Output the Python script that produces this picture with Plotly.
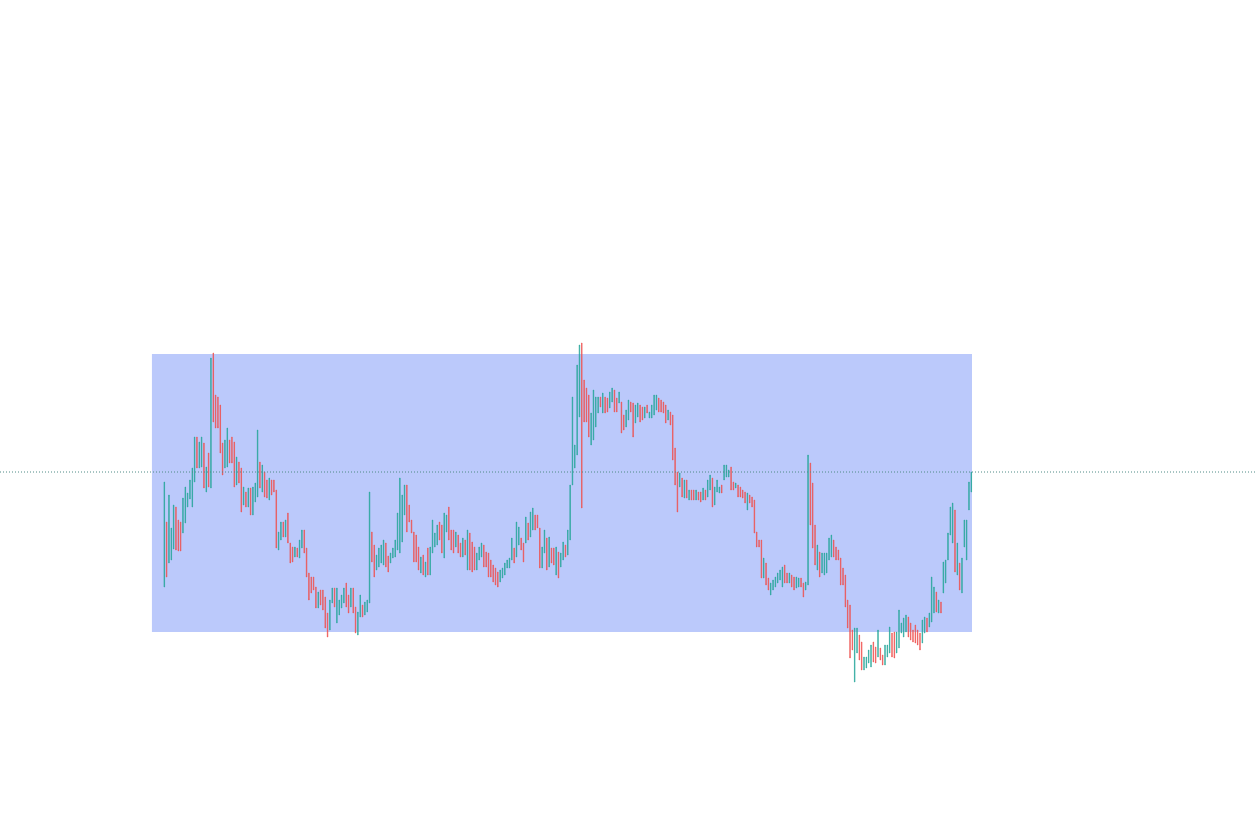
import plotly.graph_objects as go

open_ = [
    413,478,437,440,451,493,480,478,467,477,
    493,501,493,518,563,532,533,557,508,547,
    512,647,605,603,595,557,532,533,560,563,
    558,515,538,532,495,508,493,512,485,498,
    503,538,508,528,520,500,520,520,510,450,
    460,478,463,487,457,453,443,452,442,452,
    470,452,427,423,423,413,392,410,410,403,
    387,370,397,412,377,385,392,397,417,405,
    393,412,393,365,383,395,385,388,397,468,
    455,430,433,437,435,457,444,437,442,443,
    450,447,458,485,515,495,480,468,465,453,
    427,445,423,452,425,447,453,455,478,475,
    442,468,493,470,470,453,465,457,443,460,
    430,467,458,453,430,440,443,455,448,447,
    440,435,432,428,418,422,425,432,432,440,
    452,443,455,462,457,457,477,463,470,485,
    485,472,432,447,462,433,452,452,425,448,
    433,440,455,445,460,515,532,545,583,657,
    620,612,605,555,560,573,587,603,587,603,
    602,592,598,610,602,597,598,585,573,580,
    598,597,577,583,595,593,582,595,582,582,
    585,590,602,600,598,595,580,588,585,552,
    528,513,522,502,520,500,510,510,500,508,
    508,500,510,503,510,522,495,508,507,515,
    520,523,523,533,518,512,515,513,510,508,
    490,505,503,500,468,460,460,422,437,422,
    405,410,413,417,420,413,435,427,417,425,
    423,412,413,422,417,410,415,537,517,475,
    430,448,427,425,427,440,443,460,453,450,
    442,432,425,400,395,370,318,347,365,358,
    330,332,337,333,358,353,343,352,345,335,
    343,347,367,368,347,352,367,363,368,383,
    377,370,375,370,367,357,367,382,373,378,
    387,408,387,398,407,417,440,465,457,490,
    425,437,407,453,440,490,508,
]

close = [
    518,423,505,472,495,450,449,449,502,513,
    507,520,532,563,532,558,563,512,533,513,
    642,578,572,572,547,525,560,572,537,537,
    513,543,517,488,513,493,512,485,513,517,
    570,512,535,503,502,522,505,508,452,468,
    478,463,480,457,437,438,453,443,460,470,
    447,423,400,407,410,392,408,395,390,372,
    363,400,412,393,412,400,405,412,393,387,
    412,387,367,388,405,383,398,400,508,438,
    423,445,452,455,460,433,428,447,452,460,
    487,522,505,515,468,478,467,438,438,430,
    443,425,438,425,453,480,467,475,460,447,
    487,485,460,450,447,468,447,443,462,445,
    470,430,428,430,447,453,457,433,433,423,
    423,418,415,413,430,432,437,440,442,462,
    437,478,473,450,438,483,460,488,492,470,
    472,432,453,470,430,463,437,435,453,422,
    447,458,443,470,515,603,555,635,655,492,
    578,578,563,587,610,603,603,593,607,587,
    588,608,612,588,588,608,567,570,590,600,
    588,563,595,597,578,580,593,587,588,595,
    605,605,588,588,587,577,590,575,540,515,
    488,527,503,520,502,510,500,500,510,500,
    498,512,500,520,525,493,513,520,513,507,
    535,535,530,510,510,517,503,503,502,497,
    507,497,493,467,453,453,422,442,415,410,
    417,420,423,427,430,433,417,417,427,413,
    410,423,422,413,403,418,545,475,452,435,
    455,423,447,447,447,462,465,443,440,440,
    415,415,393,372,342,350,372,372,340,330,
    343,343,350,355,338,337,370,340,335,355,
    355,373,343,342,368,390,377,382,385,363,
    360,358,357,355,350,380,383,368,387,423,
    413,388,400,387,438,440,467,493,497,428,
    457,410,442,480,480,518,528,
]

high = [
    518,478,505,472,495,493,480,478,502,513,
    507,520,532,563,563,558,563,557,533,547,
    642,647,605,603,595,557,560,572,560,563,
    558,543,538,532,513,508,512,512,513,517,
    570,538,535,528,520,522,520,520,510,468,
    478,478,480,487,457,453,453,452,460,470,
    470,452,427,423,423,413,408,410,410,403,
    387,400,412,412,412,400,405,412,417,405,
    412,412,393,388,405,395,398,400,508,468,
    455,445,452,455,460,457,444,447,452,460,
    487,522,505,515,515,495,480,468,465,453,
    443,445,438,452,453,480,467,475,478,475,
    487,485,493,470,470,468,465,457,462,460,
    470,467,458,453,447,453,457,455,448,447,
    440,435,432,428,430,432,437,440,442,462,
    452,478,473,462,457,483,477,488,492,485,
    485,472,453,470,462,463,452,452,453,448,
    447,458,455,470,515,603,555,635,655,657,
    620,612,605,587,610,603,603,603,607,603,
    602,608,612,610,602,608,598,585,590,600,
    598,597,595,597,595,593,593,595,588,595,
    605,605,602,600,598,595,590,588,585,552,
    528,527,522,520,520,510,510,510,510,508,
    508,512,510,520,525,522,513,520,513,515,
    535,535,530,533,518,517,515,513,510,508,
    507,505,503,500,468,460,460,442,437,422,
    417,420,423,427,430,433,435,427,427,425,
    423,423,422,422,417,418,545,537,517,475,
    455,448,447,447,447,462,465,460,453,450,
    442,432,425,400,395,370,372,372,365,358,
    343,343,350,355,358,353,370,352,345,355,
    355,373,367,368,368,390,377,382,385,383,
    377,370,375,370,367,380,383,382,387,423,
    413,408,400,398,438,440,467,493,497,490,
    457,437,442,480,480,518,528,
]

low = [
    413,423,437,440,451,450,449,449,467,477,
    493,501,493,518,532,532,533,512,508,513,
    512,578,572,572,547,525,532,533,537,537,
    513,515,517,488,495,493,493,485,485,498,
    503,512,508,503,502,500,505,508,452,450,
    460,463,463,457,437,438,443,443,442,452,
    447,423,400,407,410,392,392,395,390,372,
    363,370,397,393,377,385,392,397,393,387,
    393,387,367,365,383,383,385,388,397,438,
    423,430,433,437,435,433,428,437,442,443,
    450,447,458,485,468,478,467,438,438,430,
    427,425,423,425,425,447,453,455,460,447,
    442,468,460,450,447,453,447,443,443,445,
    430,430,428,430,430,440,443,433,433,423,
    423,418,415,413,418,422,425,432,432,440,
    437,443,455,450,438,457,460,463,470,470,
    472,432,432,447,430,433,437,435,425,422,
    433,440,443,445,460,515,532,545,583,492,
    578,578,563,555,560,573,587,593,587,587,
    588,592,598,588,588,597,567,570,573,580,
    588,563,577,583,578,580,582,587,582,582,
    585,590,588,588,587,577,580,575,540,515,
    488,513,503,502,502,500,500,500,500,500,
    498,500,500,503,510,493,495,508,507,507,
    520,523,523,510,510,512,503,503,502,497,
    490,497,493,467,453,453,422,422,415,410,
    405,410,413,417,420,413,417,417,417,413,
    410,412,413,413,403,410,415,475,452,435,
    430,423,427,425,427,440,443,443,440,440,
    415,415,393,372,342,350,318,347,340,330,
    330,332,337,333,338,337,343,340,335,335,
    343,347,343,342,347,352,367,363,368,363,
    360,358,357,355,350,357,367,368,373,378,
    387,388,387,387,407,417,440,465,457,428,
    425,410,407,453,440,490,508,
]

bars = list(range(len(close)))

box_top = 646
box_bottom = 368

UP = "#26a69a"
DOWN = "#ef5350"

fig = go.Figure(
    go.Candlestick(
        x=bars, open=open_, high=high, low=low, close=close,
        increasing=dict(line=dict(color=UP, width=0.6), fillcolor=UP),
        decreasing=dict(line=dict(color=DOWN, width=0.6), fillcolor=DOWN),
        whiskerwidth=0,
        hoverinfo="x+y",
        showlegend=False,
    )
)

fig.add_shape(type="rect", xref="x", yref="y",
              x0=-5.3, x1=len(close) - 0.7, y0=box_bottom, y1=box_top,
              fillcolor="#bbc9fb", line=dict(width=0), layer="below")

fig.add_shape(type="line", xref="paper", yref="y",
              x0=0, x1=1, y0=close[-1], y1=close[-1],
              line=dict(color="#4e8a86", width=1, dash="1px,2px"), layer="above")

fig.update_layout(
    width=1255, height=829,
    margin=dict(l=0, r=0, t=0, b=0),
    paper_bgcolor="white", plot_bgcolor="white",
    showlegend=False,
    boxgap=0.65,
)
fig.update_xaxes(visible=False, range=[-70.44, 467.63], rangeslider=dict(visible=False), fixedrange=True)
fig.update_yaxes(visible=False, range=[171, 1000], fixedrange=True)

fig.write_html(
    "out.html",
    config={"displayModeBar": False},
    post_script="document.body.style.margin='0';document.body.style.overflow='hidden';",
)
